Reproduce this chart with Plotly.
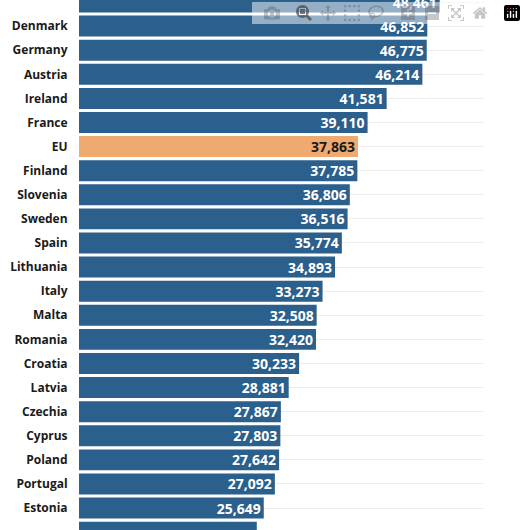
import plotly.graph_objects as go

countries = ["Belgium","Denmark","Germany","Austria","Ireland","France","EU","Finland","Slovenia","Sweden","Spain","Lithuania","Italy","Malta","Romania","Croatia","Latvia","Czechia","Cyprus","Poland","Portugal","Estonia","Hungary"]
values = [48461,46852,46775,46214,41581,39110,37863,37785,36806,36516,35774,34893,33273,32508,32420,30233,28881,27867,27803,27642,27092,25649,24746]

idx = list(range(len(countries)))
colors = ["#f0a96e" if c == "EU" else "#2b5f8c" for c in countries]
tcolors = ["#1a1a1a" if c == "EU" else "white" for c in countries]

fig = go.Figure(go.Bar(
    x=values, y=idx, orientation="h", width=0.87,
    marker=dict(color=colors, line=dict(width=0)),
    text=[f"{v:,}" for v in values], textposition="inside", insidetextanchor="end",
    constraintext="none",
    textfont=dict(color=tcolors, size=14, family="Open Sans"),
    texttemplate="<b>%{text}</b>", cliponaxis=False,
))
fig.update_layout(
    width=526, height=530, margin=dict(l=79, r=42, t=0, b=0),
    plot_bgcolor="white", paper_bgcolor="white", showlegend=False,
)
fig.update_xaxes(range=[1700, 54200], visible=False, showgrid=False)
fig.update_yaxes(range=[21.91, -0.083], tickvals=idx, ticktext=[f"<b>{c}</b>" for c in countries],
                 tickfont=dict(size=12, color="#1a1a1a", family="Open Sans"),
                 showgrid=True, gridcolor="#ececec", gridwidth=1, zeroline=False,
                 ticks="outside", ticklen=8, tickcolor="rgba(0,0,0,0)", automargin=False)
fig.write_html("out.html", post_script="document.body.style.margin='0';")
